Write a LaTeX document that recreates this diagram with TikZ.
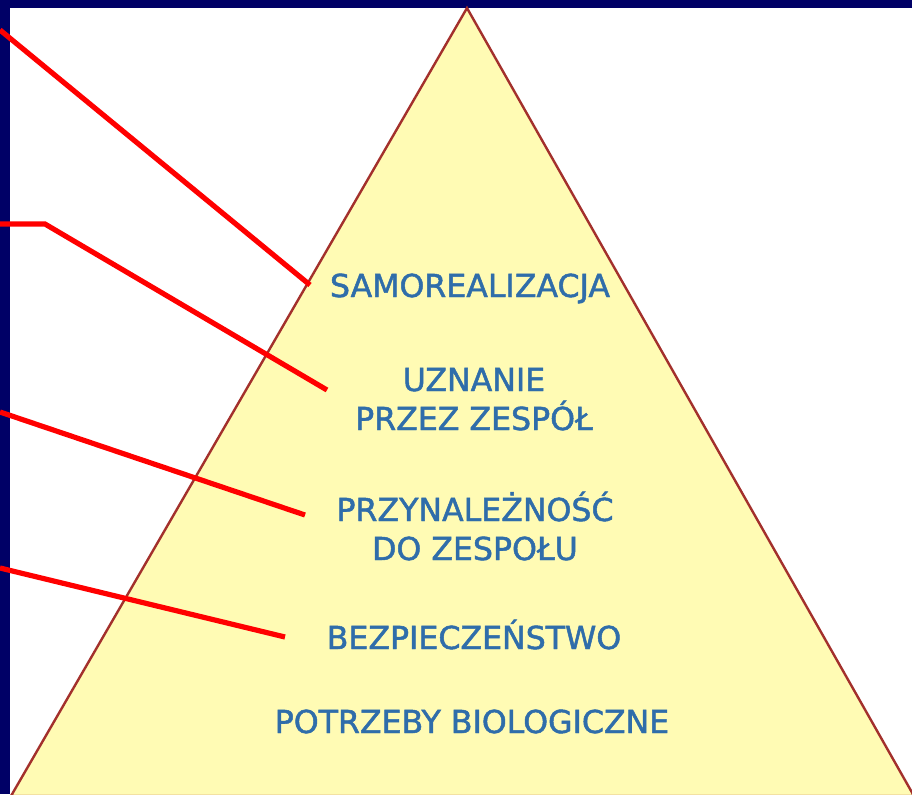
\documentclass[tikz,border=0pt]{standalone}
\usepackage{fontspec}
\usepackage{xcolor}
\usepackage{tikz}
\usetikzlibrary{positioning}
\newfontfamily\levelfont[UprightFeatures={FakeBold=1.5}]{DejaVu Sans}
\definecolor{frameblue}{HTML}{000066}
\definecolor{pyramidfill}{HTML}{FFFBB4}
\definecolor{pyramidedge}{HTML}{A3302C}
\definecolor{leveltext}{HTML}{2F6DAA}
\tikzset{
    frame/.style={fill=frameblue},
    sheet/.style={fill=white},
    pyramid/.style={fill=pyramidfill, draw=pyramidedge, line width=1.2pt, line join=miter},
    level/.style={text=leveltext, align=center, inner sep=0pt, anchor=base, font=\levelfont\fontsize{15.8}{19.5}\selectfont},
    pointer/.style={draw=red, line width=2.6pt}
}

\begin{document}
\begin{tikzpicture}[x=0.5pt, y=-0.5pt]
    \useasboundingbox (0,0) rectangle (912,794);
    \clip (0,0) rectangle (912,794);

    % Background frame
    \fill[frame] (0,0) rectangle (912,794);
    \fill[sheet] (10,8) rectangle (912,794);

    % Pyramid
    \coordinate (apex) at (467,8);
    \coordinate (baseleft) at (11,796);
    \coordinate (baseright) at (914,796);
    \filldraw[pyramid] (baseleft) -- (apex) -- (baseright) -- cycle;

    % Levels (base = last line)
    \node[level] (samo) at (470,297) {SAMOREALIZACJA};
    \node[level] (uznanie) at (474,430) {UZNANIE\\PRZEZ ZESPÓŁ};
    \node[level] (przyn) at (475,560) {PRZYNALEŻNOŚĆ\\DO ZESPOŁU};
    \node[level] (bezp) at (474,649) {BEZPIECZEŃSTWO};
    \node[level] (bio) at (472,733) {POTRZEBY BIOLOGICZNE};

    % Pointer ends
    \coordinate (s1) at (0,30);
    \coordinate (e1) at (310,285);
    \coordinate (s2) at (0,224);
    \coordinate (k2) at (45,224);
    \coordinate (e2) at (327,390);
    \coordinate (s3) at (0,412);
    \coordinate (e3) at (305,515);
    \coordinate (s4) at (0,568);
    \coordinate (e4) at (285,637);

    % Pointers
    \draw[pointer] (s1) -- (e1);
    \draw[pointer] (s2) -- (k2) -- (e2);
    \draw[pointer] (s3) -- (e3);
    \draw[pointer] (s4) -- (e4);

\end{tikzpicture}
\end{document}
